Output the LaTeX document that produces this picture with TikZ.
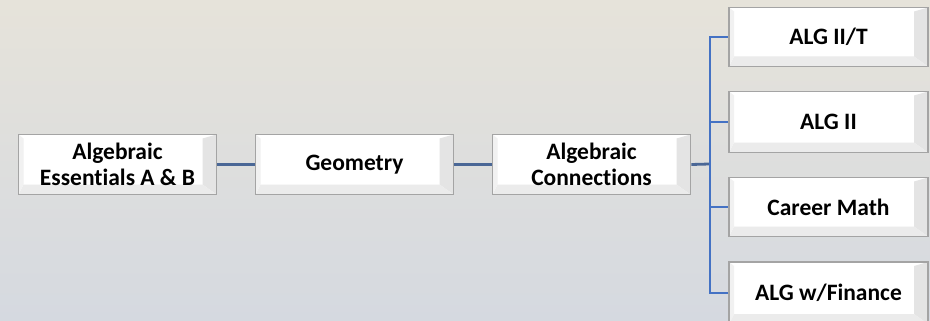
\documentclass[tikz,border=0pt]{standalone}
\usepackage{fontspec}
\setmainfont[Ligatures={NoCommon}]{Carlito}
\definecolor{bgtop}{HTML}{E6E3DA}
\definecolor{bgbot}{HTML}{D5D9E0}
\definecolor{boxline}{HTML}{A4A4A4}
\definecolor{bevR}{HTML}{E4E4E4}
\definecolor{bevB}{HTML}{EBEBEB}
\definecolor{linkdark}{HTML}{4A6796}
\definecolor{linkblue}{HTML}{4472C4}
\tikzset{
  stagebox/.style={draw=boxline, line width=1.6pt, fill=white, minimum width=#1, inner sep=0pt,
    align=center, font=\fontsize{23.5}{26.5}\selectfont\bfseries,
    path picture={
      \fill[bevR] ([shift={(-14pt,-4pt)}]path picture bounding box.north east) -- (path picture bounding box.north east)
        -- (path picture bounding box.south east) -- ([shift={(-14pt,10pt)}]path picture bounding box.south east) -- cycle;
      \fill[bevB] ([shift={(5pt,10pt)}]path picture bounding box.south west) -- ([shift={(-14pt,10pt)}]path picture bounding box.south east)
        -- (path picture bounding box.south east) -- (path picture bounding box.south west) -- cycle;
      \fill[bevB!70!white] (path picture bounding box.north west) -- ([shift={(5pt,-4pt)}]path picture bounding box.north west)
        -- ([shift={(5pt,10pt)}]path picture bounding box.south west) -- (path picture bounding box.south west) -- cycle;
    }},
  mainlink/.style={draw=linkdark, line width=2.8pt},
  branchlink/.style={draw=linkblue, line width=2pt}
}
\begin{document}
\begin{tikzpicture}[x=1pt,y=-1pt]
\useasboundingbox (0,0) rectangle (930,321);
\shade[top color=bgtop, bottom color=bgbot] (0,0) rectangle (930,321);
\node[stagebox=198pt, minimum height=60pt] (a) at (117.5,164.5) {Algebraic\\Essentials A \& B};
\node[stagebox=198pt, minimum height=60pt] (g) at (354.5,164.5) {Geometry};
\node[stagebox=198pt, minimum height=60pt] (c) at (591.5,164.5) {Algebraic\\Connections};
\node[stagebox=199pt, minimum height=59pt] (r1) at (828.5,37) {ALG II/T};
\node[stagebox=199pt, minimum height=61pt] (r2) at (828.5,122) {ALG II};
\node[stagebox=199pt, minimum height=59pt] (r3) at (828.5,207) {Career Math};
\node[stagebox=199pt, minimum height=62pt] (r4) at (828.5,293) {ALG w/Finance};
\coordinate (t) at (709.5,164);
\draw[mainlink] (a.east) -- (g.west);
\draw[mainlink] (g.east) -- (c.west);
\draw[mainlink] (c.east) -- (t);
\draw[branchlink] (r1.west) -| (t);
\draw[branchlink] (r4.west) -| (t);
\draw[branchlink] (r2.west) -| (t);
\draw[branchlink] (r3.west) -| (t);
\end{tikzpicture}
\end{document}
